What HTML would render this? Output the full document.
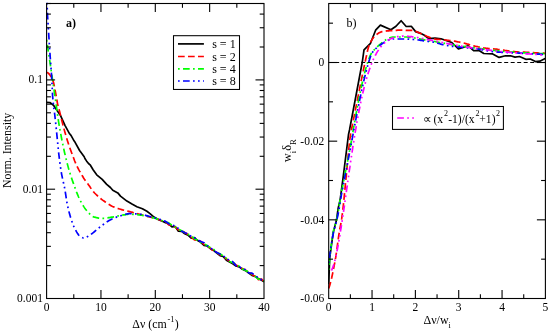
<!DOCTYPE html>
<html><head><meta charset="utf-8"><title>plot</title>
<style>html,body{margin:0;padding:0;background:#fff;}body{width:550px;height:331px;position:relative;overflow:hidden;font-family:"Liberation Serif",serif;}</style>
</head><body>
<svg width="550" height="331" viewBox="0 0 550 331" style="position:absolute;left:0;top:0;will-change:transform;opacity:0.999">
<rect x="0" y="0" width="550" height="331" fill="#fff"/>
<defs><clipPath id="c1"><rect x="46.1" y="0" width="218.4" height="299.0"/></clipPath><clipPath id="c2"><rect x="328.2" y="3.0" width="217.7" height="296.0"/></clipPath></defs>
<g clip-path="url(#c1)" fill="none" stroke-width="1.7" stroke-linejoin="round">
<polyline points="46.6,102.3 49.8,102.5 53.5,105.2 56.4,109.5 59.3,113.9 60.1,114.7 61.8,118.3 65.1,125.6 69.6,133.8 71.0,135.4 74.2,141.1 75.1,142.3 79.6,150.5 84.2,156.8 84.9,158.5 86.5,160.9 88.5,163.5 90.1,164.8 93.1,169.8 96.7,174.8 102.2,179.4 106.7,184.4 110.4,187.5 112.8,190.2 117.8,192.9 120.5,196.1 126.9,201.1 132.4,204.3 136.9,206.7 142.4,208.8 146.9,211.3 150.0,213.6 154.0,217.1 159.2,220.0 162.4,221.2 165.6,222.8 168.8,224.0 172.0,226.9 175.2,226.5 178.4,231.2 181.6,231.3 184.8,233.8 188.0,235.2 191.2,238.2 194.4,237.5 197.6,240.5 200.8,242.3 204.0,245.4 207.2,246.0 210.4,248.7 213.6,250.4 216.8,253.1 220.0,255.6 223.2,256.5 226.4,260.2 229.6,262.1 232.8,263.8 236.0,266.0 239.2,266.9 242.4,269.2 245.6,270.6 248.8,273.0 252.0,275.4 255.2,276.5 258.4,278.6 261.6,280.3 264.0,281.7" stroke="#000"/>
<polyline points="46.6,72.4 47.6,72.7 48.6,73.4 49.6,74.6 50.6,76.0 51.6,77.8 52.6,79.8 53.6,82.8 54.6,87.5 55.6,92.9 56.6,98.5 57.6,104.1 58.6,107.8 59.6,111.5 60.6,115.7 61.6,119.7 62.6,123.6 63.6,127.4 64.6,131.1 65.6,134.6 66.6,138.0 67.6,141.2 68.6,144.2 69.6,147.2 70.6,150.0 71.6,152.7 72.6,155.4 73.6,158.0 74.6,160.7 75.6,163.2 76.6,165.4 77.6,167.4 78.6,169.3 79.6,171.1 80.6,172.8 81.6,174.5 82.6,176.3 83.6,178.0 84.6,179.6 85.6,181.0 86.6,182.3 87.6,183.6 88.6,184.9 89.6,186.3 90.6,187.9 91.6,189.5 92.6,190.7 93.6,191.9 94.6,193.0 95.6,194.0 96.6,195.0 97.6,195.9 98.6,196.8 99.6,197.7 100.6,198.5 101.6,199.3 102.6,200.1 103.6,200.8 104.6,201.5 105.6,202.2 106.6,202.9 107.6,203.6 108.6,204.2 109.6,204.8 110.6,205.4 111.6,206.0 112.6,206.5 113.6,206.9 114.6,207.3 115.6,207.7 116.6,208.1 117.6,208.4 118.6,208.7 119.6,209.0 120.6,209.3 121.6,209.6 122.6,209.9 123.6,210.1 124.6,210.4 125.6,210.6 126.6,210.9 127.6,211.1 128.6,211.3 129.6,211.6 130.6,211.9 131.6,212.1 132.6,212.4 133.6,212.7 134.6,213.0 135.6,213.3 136.6,213.6 137.6,213.8 138.6,214.1 139.6,214.4 140.6,214.7 141.6,214.9 142.6,215.2 143.6,215.4 144.6,215.6 145.6,215.9 146.6,216.1 147.6,216.4 148.6,216.6 149.6,216.9 150.6,217.2 151.6,217.4 152.6,217.7 153.6,218.0 154.6,218.3 155.6,218.6 159.2,219.7 162.4,221.0 165.6,221.7 168.8,224.9 172.0,224.9 175.2,227.2 178.4,229.8 181.6,230.7 184.8,232.6 188.0,234.5 191.2,237.1 194.4,239.8 197.6,240.3 200.8,241.4 204.0,244.4 207.2,245.9 210.4,248.4 213.6,251.2 216.8,252.3 220.0,254.8 223.2,256.5 226.4,258.9 229.6,261.2 232.8,262.5 236.0,264.9 239.2,266.9 242.4,268.6 245.6,270.2 248.8,272.0 252.0,274.6 255.2,276.4 258.4,279.7 261.6,279.0 264.0,282.0" stroke="#f00" stroke-dasharray="6.7 3.3"/>
<polyline points="46.6,40.0 47.6,46.5 48.6,53.1 49.6,59.8 50.6,66.5 51.6,73.2 52.6,80.0 53.6,86.9 54.6,93.8 55.6,100.6 56.6,107.9 57.6,115.3 58.6,121.8 59.6,127.8 60.6,133.3 61.6,138.5 62.6,143.5 63.6,148.2 64.6,152.7 65.6,156.9 66.6,161.0 67.6,164.9 68.6,168.6 69.6,172.0 70.6,175.2 71.6,178.2 72.6,181.1 73.6,183.9 74.6,186.6 75.6,189.4 76.6,192.1 77.6,194.6 78.6,197.0 79.6,199.2 80.6,201.2 81.6,203.0 82.6,204.7 83.6,206.4 84.6,207.9 85.6,209.3 86.6,210.5 87.6,211.7 88.6,212.8 89.6,213.8 90.6,214.8 91.6,215.7 92.6,216.4 93.6,216.9 94.6,217.2 95.6,217.4 96.6,217.7 97.6,217.9 98.6,218.1 99.6,218.2 100.6,218.3 101.6,218.4 102.6,218.4 103.6,218.3 104.6,218.3 105.6,218.1 106.6,218.0 107.6,217.9 108.6,217.7 109.6,217.6 110.6,217.4 111.6,217.2 112.6,217.1 113.6,216.9 114.6,216.7 115.6,216.5 116.6,216.2 117.6,216.0 118.6,215.8 119.6,215.7 120.6,215.5 121.6,215.3 122.6,215.1 123.6,214.9 124.6,214.8 125.6,214.6 126.6,214.5 127.6,214.3 128.6,214.2 129.6,214.2 130.6,214.2 131.6,214.2 132.6,214.3 133.6,214.3 134.6,214.4 135.6,214.5 136.6,214.6 137.6,214.7 138.6,214.8 139.6,215.0 140.6,215.1 141.6,215.2 142.6,215.4 143.6,215.6 144.6,215.8 145.6,216.0 146.6,216.2 147.6,216.4 148.6,216.7 149.6,216.9 150.6,217.1 151.6,217.4 152.6,217.6 153.6,217.9 154.6,218.1 155.6,218.4 159.2,219.7 162.4,220.7 165.6,222.1 168.8,222.9 172.0,225.3 175.2,227.1 178.4,229.1 181.6,230.7 184.8,232.8 188.0,234.4 191.2,235.7 194.4,238.7 197.6,240.3 200.8,242.6 204.0,243.7 207.2,245.6 210.4,247.7 213.6,249.3 216.8,252.8 220.0,253.8 223.2,255.9 226.4,258.5 229.6,261.5 232.8,262.8 236.0,264.1 239.2,266.2 242.4,268.9 245.6,270.4 248.8,271.9 252.0,274.1 255.2,276.5 258.4,279.1 261.6,279.3 264.0,281.2" stroke="#0f0" stroke-dasharray="1.7 3.3 6.7 3.3"/>
<polyline points="46.6,-6.0 47.6,16.5 48.6,32.2 49.6,48.4 50.6,62.5 51.6,75.9 52.6,96.1 53.6,106.4 54.6,113.5 55.6,122.3 56.6,132.1 57.6,142.2 58.6,152.4 59.6,160.8 60.6,167.9 61.6,174.1 62.6,179.0 63.6,183.3 64.6,187.9 65.6,193.8 66.6,200.7 67.6,206.0 68.6,210.3 69.6,214.1 70.6,217.5 71.6,220.6 72.6,223.4 73.6,226.0 74.6,228.2 75.6,230.1 76.6,231.9 77.6,233.6 78.6,235.0 79.6,236.0 80.6,236.7 81.6,237.3 82.6,237.7 83.6,238.0 84.6,237.9 85.6,237.7 86.6,237.2 87.6,236.6 88.6,235.9 89.6,235.2 90.6,234.6 91.6,233.9 92.6,233.2 93.6,232.4 94.6,231.5 95.6,230.7 96.6,229.8 97.6,228.9 98.6,228.1 99.6,227.3 100.6,226.5 101.6,225.8 102.6,225.0 103.6,224.3 104.6,223.5 105.6,222.8 106.6,222.1 107.6,221.4 108.6,220.8 109.6,220.2 110.6,219.7 111.6,219.2 112.6,218.8 113.6,218.3 114.6,217.9 115.6,217.5 116.6,217.1 117.6,216.8 118.6,216.4 119.6,216.1 120.6,215.8 121.6,215.5 122.6,215.2 123.6,214.8 124.6,214.5 125.6,214.3 126.6,214.0 127.6,213.8 128.6,213.7 129.6,213.6 130.6,213.6 131.6,213.6 132.6,213.7 133.6,213.7 134.6,213.8 135.6,213.8 136.6,213.9 137.6,214.0 138.6,214.1 139.6,214.2 140.6,214.3 141.6,214.4 142.6,214.6 143.6,214.8 144.6,215.1 145.6,215.4 146.6,215.6 147.6,215.9 148.6,216.2 149.6,216.5 150.6,216.8 151.6,217.0 152.6,217.3 153.6,217.5 154.6,217.8 155.6,218.1 159.2,219.1 162.4,220.4 165.6,221.4 168.8,223.8 172.0,224.9 175.2,226.1 178.4,228.5 181.6,231.0 184.8,232.7 188.0,233.7 191.2,236.5 194.4,237.8 197.6,239.8 200.8,241.5 204.0,242.7 207.2,245.7 210.4,247.4 213.6,250.7 216.8,252.4 220.0,254.1 223.2,255.7 226.4,258.4 229.6,260.5 232.8,261.7 236.0,265.6 239.2,266.5 242.4,269.2 245.6,269.5 248.8,273.0 252.0,273.2 255.2,275.5 258.4,278.0 261.6,279.7 264.0,279.9" stroke="#00f" stroke-dasharray="6.7 3.3 1.7 3.3 1.7 3.3" stroke-dashoffset="1.2"/>
</g>
<g clip-path="url(#c2)" fill="none" stroke-width="1.7" stroke-linejoin="round">
<polyline points="328.7,284.0 329.7,258.0 333.2,232.6 336.5,220.0 338.1,208.5 340.1,200.0 343.0,178.3 348.5,134.5 349.5,130.0 362.3,62.0 364.0,49.8 370.5,43.3 375.6,30.2 380.4,25.1 390.9,29.7 396.0,26.3 401.1,20.7 406.2,26.5 411.3,26.3 415.6,31.6 420.0,33.1 424.4,35.3 428.7,38.7 435.0,38.2 441.0,38.8 451.8,42.5 458.4,49.0 468.2,45.8 473.6,50.6 479.0,50.6 483.8,53.5 492.7,53.9 499.1,57.4 505.5,55.8 510.5,55.8 515.0,57.1 519.5,56.5 525.8,59.3 530.3,59.0 535.4,61.6 539.8,61.2 545.2,58.6" stroke="#000"/>
<polyline points="328.7,288.4 329.7,285.4 330.7,281.8 331.7,277.7 332.7,273.1 333.7,268.2 334.7,262.9 335.7,257.4 336.7,250.8 337.7,243.2 338.7,235.9 339.7,229.8 340.7,224.6 341.7,218.7 342.7,211.0 343.7,202.0 344.7,191.8 345.7,181.3 346.7,171.1 347.7,160.2 348.7,149.6 349.7,140.3 350.7,133.4 351.7,128.5 352.7,123.5 353.7,118.5 354.7,113.4 355.7,108.4 356.7,103.3 357.7,98.3 358.7,93.3 359.7,88.3 360.7,83.3 361.7,78.4 362.7,73.5 363.7,68.7 364.7,63.9 365.7,59.3 366.7,54.7 367.7,50.1 368.7,46.6 369.7,44.0 370.7,41.9 371.7,40.1 372.7,38.6 373.7,37.2 374.7,36.1 375.7,35.2 376.7,34.5 377.7,33.7 378.7,33.1 379.7,32.5 380.7,32.1 381.7,31.7 382.7,31.5 383.7,31.3 384.7,31.2 385.7,31.1 386.7,30.9 387.7,30.9 388.7,30.8 389.7,30.7 390.7,30.6 391.7,30.6 392.7,30.5 393.7,30.4 394.7,30.4 395.7,30.3 396.7,30.3 397.7,30.2 398.7,30.2 399.7,30.2 400.7,30.2 401.7,30.2 402.7,30.2 403.7,30.2 404.7,30.2 405.7,30.3 406.7,30.3 407.7,30.3 408.7,30.3 409.7,30.4 410.7,30.4 411.7,30.4 412.7,30.5 413.7,30.8 414.7,31.0 415.7,31.4 416.7,31.8 417.7,32.2 418.7,32.6 419.7,33.1 420.7,33.5 421.7,33.9 422.7,34.3 423.7,34.8 424.7,35.2 425.7,35.7 426.7,36.2 427.7,36.6 428.7,37.0 429.7,37.4 430.7,37.7 431.7,38.1 432.7,38.4 433.7,38.7 434.7,39.0 435.7,39.2 436.7,39.3 437.7,39.4 438.7,39.4 439.7,39.5 440.7,39.6 441.7,39.7 442.7,39.8 443.7,39.9 444.7,40.0 445.7,40.1 446.7,40.2 447.7,40.3 448.7,40.4 449.7,40.5 450.7,40.7 451.7,40.8 452.7,40.9 453.7,41.1 454.7,41.2 455.7,41.4 456.7,41.6 457.7,41.8 458.7,42.0 459.7,42.2 460.7,42.4 461.7,42.6 462.7,42.8 463.7,43.0 464.7,43.3 465.7,43.6 466.7,43.9 467.7,44.1 468.7,44.4 469.7,44.7 470.7,45.0 471.7,45.3 472.7,45.6 473.7,45.8 474.7,46.1 475.7,46.3 476.7,46.5 477.7,46.7 478.7,47.0 479.7,47.2 480.7,47.4 481.7,47.6 482.7,47.7 483.7,47.9 484.7,48.0 485.7,48.2 486.7,48.3 487.7,48.4 488.7,48.5 489.7,48.5 490.7,48.6 491.7,48.7 492.7,48.8 493.7,48.9 494.7,49.0 495.7,49.1 496.7,49.2 497.7,49.4 498.7,49.5 499.7,49.7 500.7,49.8 501.7,49.9 502.7,50.1 503.7,50.2 504.7,50.4 505.7,50.5 506.7,50.6 507.7,50.8 508.7,50.9 509.7,51.0 510.7,51.2 511.7,51.3 512.7,51.4 513.7,51.6 514.7,51.7 515.7,51.8 516.7,51.9 517.7,51.9 518.7,52.0 519.7,52.0 520.7,52.1 521.7,52.1 522.7,52.2 523.7,52.2 524.7,52.2 525.7,52.3 526.7,52.3 527.7,52.4 528.7,52.4 529.7,52.5 530.7,52.5 531.7,52.6 532.7,52.6 533.7,52.7 534.7,52.8 535.7,52.8 536.7,52.9 537.7,52.9 538.7,53.0 539.7,53.0 540.7,53.1 541.7,53.1 542.7,53.2 543.7,53.2 544.7,53.3 545.2,53.3" stroke="#f00" stroke-dasharray="6.7 3.3"/>
<polyline points="328.7,270.0 329.7,259.2 330.7,249.5 331.7,241.2 332.7,234.6 333.7,229.8 334.7,226.3 335.7,223.1 336.7,219.1 337.7,214.4 338.7,209.1 339.7,202.6 340.7,196.5 341.7,191.1 342.7,186.0 343.7,180.9 344.7,175.7 345.7,170.5 346.7,165.5 347.7,160.4 348.7,155.3 349.7,150.1 350.7,144.8 351.7,139.2 352.7,133.2 353.7,127.2 354.7,121.5 355.7,116.0 356.7,110.5 357.7,105.2 358.7,100.0 359.7,95.0 360.7,90.1 361.7,85.4 362.7,80.9 363.7,76.7 364.7,72.6 365.7,68.9 366.7,65.4 367.7,62.2 368.7,59.3 369.7,56.7 370.7,54.5 371.7,52.9 372.7,51.5 373.7,50.3 374.7,49.3 375.7,48.3 376.7,47.3 377.7,46.3 378.7,45.4 379.7,44.6 380.7,43.8 381.7,43.0 382.7,42.2 383.7,41.5 384.7,40.7 385.7,39.9 386.7,39.1 387.7,38.5 388.7,38.1 389.7,37.8 390.7,37.6 391.7,37.4 392.7,37.2 393.7,37.1 394.7,37.0 395.7,37.0 396.7,37.0 397.7,37.0 398.7,37.0 399.7,37.0 400.7,37.0 401.7,37.0 402.7,37.0 403.7,37.0 404.7,37.0 405.7,37.0 406.7,37.0 407.7,37.1 408.7,37.2 409.7,37.3 410.7,37.4 411.7,37.5 412.7,37.7 413.7,37.8 414.7,38.0 415.7,38.1 416.7,38.3 417.7,38.5 418.7,38.7 419.7,38.9 420.7,39.1 421.7,39.3 422.7,39.5 423.7,39.8 424.7,39.9 425.7,40.1 426.7,40.3 427.7,40.5 428.7,40.6 429.7,40.8 430.7,40.9 431.7,41.1 432.7,41.2 433.7,41.4 434.7,41.5 435.7,41.7 436.7,41.9 437.7,42.1 438.7,42.3 439.7,42.5 440.7,42.7 441.7,42.8 442.7,43.0 443.7,43.2 444.7,43.4 445.7,43.6 446.7,43.8 447.7,44.0 448.7,44.2 449.7,44.4 450.7,44.5 451.7,44.7 452.7,44.8 453.7,45.0 454.7,45.1 455.7,45.3 456.7,45.4 457.7,45.6 458.7,45.7 459.7,45.8 460.7,46.0 461.7,46.1 462.7,46.2 463.7,46.3 464.7,46.5 465.7,46.6 466.7,46.7 467.7,46.8 468.7,47.0 469.7,47.1 470.7,47.2 471.7,47.3 472.7,47.5 473.7,47.6 474.7,47.8 475.7,47.9 476.7,48.0 477.7,48.2 478.7,48.3 479.7,48.5 480.7,48.6 481.7,48.8 482.7,48.9 483.7,49.1 484.7,49.2 485.7,49.4 486.7,49.5 487.7,49.6 488.7,49.8 489.7,49.9 490.7,50.0 491.7,50.2 492.7,50.3 493.7,50.4 494.7,50.5 495.7,50.6 496.7,50.7 497.7,50.8 498.7,50.9 499.7,51.0 500.7,51.1 501.7,51.2 502.7,51.3 503.7,51.4 504.7,51.5 505.7,51.6 506.7,51.6 507.7,51.7 508.7,51.8 509.7,51.9 510.7,52.0 511.7,52.0 512.7,52.1 513.7,52.2 514.7,52.2 515.7,52.3 516.7,52.4 517.7,52.4 518.7,52.5 519.7,52.5 520.7,52.6 521.7,52.7 522.7,52.7 523.7,52.8 524.7,52.8 525.7,52.9 526.7,52.9 527.7,53.0 528.7,53.0 529.7,53.1 530.7,53.1 531.7,53.2 532.7,53.2 533.7,53.3 534.7,53.3 535.7,53.4 536.7,53.4 537.7,53.5 538.7,53.5 539.7,53.5 540.7,53.6 541.7,53.6 542.7,53.6 543.7,53.7 544.7,53.7 545.2,53.7" stroke="#0f0" stroke-dasharray="1.7 3.3 6.7 3.3"/>
<polyline points="328.7,263.0 329.7,255.4 330.7,248.4 331.7,242.1 332.7,236.5 333.7,231.6 334.7,227.7 335.7,224.2 336.7,220.4 337.7,216.0 338.7,211.2 339.7,205.3 340.7,198.8 341.7,193.2 342.7,188.0 343.7,182.9 344.7,177.8 345.7,172.6 346.7,167.4 347.7,162.3 348.7,157.1 349.7,152.0 350.7,146.8 351.7,141.5 352.7,136.1 353.7,130.5 354.7,125.3 355.7,120.1 356.7,115.0 357.7,109.9 358.7,104.9 359.7,99.9 360.7,95.1 361.7,90.4 362.7,85.8 363.7,81.4 364.7,77.1 365.7,73.1 366.7,69.2 367.7,65.6 368.7,62.2 369.7,58.9 370.7,55.9 371.7,53.5 372.7,52.0 373.7,50.7 374.7,49.6 375.7,48.7 376.7,47.8 377.7,47.0 378.7,46.2 379.7,45.4 380.7,44.7 381.7,44.0 382.7,43.3 383.7,42.7 384.7,42.1 385.7,41.7 386.7,41.1 387.7,40.6 388.7,40.1 389.7,39.7 390.7,39.4 391.7,39.1 392.7,39.0 393.7,39.0 394.7,39.0 395.7,39.0 396.7,39.0 397.7,39.0 398.7,39.0 399.7,39.0 400.7,39.0 401.7,39.0 402.7,39.0 403.7,39.0 404.7,39.0 405.7,39.0 406.7,39.0 407.7,39.1 408.7,39.1 409.7,39.2 410.7,39.2 411.7,39.3 412.7,39.4 413.7,39.5 414.7,39.6 415.7,39.7 416.7,39.8 417.7,39.9 418.7,40.0 419.7,40.2 420.7,40.3 421.7,40.5 422.7,40.7 423.7,40.8 424.7,41.0 425.7,41.1 426.7,41.2 427.7,41.3 428.7,41.5 429.7,41.6 430.7,41.7 431.7,41.9 432.7,42.0 433.7,42.2 434.7,42.3 435.7,42.6 436.7,42.8 437.7,43.2 438.7,43.5 439.7,43.8 440.7,44.1 441.7,44.4 442.7,44.6 443.7,44.8 444.7,45.0 445.7,45.3 446.7,45.5 447.7,45.6 448.7,45.8 449.7,46.0 450.7,46.1 451.7,46.3 452.7,46.4 453.7,46.5 454.7,46.7 455.7,46.8 456.7,46.9 457.7,47.0 458.7,47.1 459.7,47.1 460.7,47.2 461.7,47.3 462.7,47.4 463.7,47.5 464.7,47.5 465.7,47.6 466.7,47.7 467.7,47.8 468.7,47.9 469.7,48.0 470.7,48.1 471.7,48.2 472.7,48.3 473.7,48.4 474.7,48.5 475.7,48.7 476.7,48.8 477.7,49.0 478.7,49.2 479.7,49.4 480.7,49.5 481.7,49.7 482.7,49.9 483.7,50.1 484.7,50.3 485.7,50.5 486.7,50.7 487.7,50.9 488.7,51.0 489.7,51.2 490.7,51.3 491.7,51.5 492.7,51.6 493.7,51.7 494.7,51.8 495.7,51.9 496.7,52.0 497.7,52.1 498.7,52.1 499.7,52.2 500.7,52.2 501.7,52.3 502.7,52.3 503.7,52.4 504.7,52.4 505.7,52.5 506.7,52.5 507.7,52.6 508.7,52.6 509.7,52.7 510.7,52.7 511.7,52.7 512.7,52.8 513.7,52.8 514.7,52.9 515.7,52.9 516.7,53.0 517.7,53.0 518.7,53.1 519.7,53.1 520.7,53.2 521.7,53.2 522.7,53.3 523.7,53.3 524.7,53.4 525.7,53.4 526.7,53.5 527.7,53.5 528.7,53.6 529.7,53.7 530.7,53.7 531.7,53.8 532.7,53.8 533.7,53.9 534.7,53.9 535.7,54.0 536.7,54.0 537.7,54.1 538.7,54.1 539.7,54.2 540.7,54.3 541.7,54.3 542.7,54.4 543.7,54.4 544.7,54.5 545.2,54.5" stroke="#00f" stroke-dasharray="6.7 3.3 1.7 3.3 1.7 3.3" stroke-dashoffset="15"/>
<polyline points="331.4,270.5 332.0,269.4 332.5,268.1 333.0,266.7 333.6,265.1 334.1,263.3 334.7,261.3 335.2,259.2 335.8,256.9 336.3,254.5 336.8,251.9 337.4,249.2 337.9,246.3 338.5,243.4 339.0,240.3 339.6,237.1 340.1,233.8 340.6,230.4 341.2,227.0 341.7,223.5 342.3,219.9 342.8,216.2 343.4,212.5 343.9,208.8 344.5,205.0 345.0,201.2 345.5,197.4 346.1,193.6 346.6,189.7 347.2,185.9 347.7,182.0 348.3,178.2 348.8,174.4 349.3,170.6 349.9,166.9 350.4,163.1 351.0,159.4 351.5,155.8 352.1,152.2 352.6,148.6 353.1,145.1 353.7,141.7 354.2,138.3 354.8,134.9 355.3,131.6 355.9,128.4 356.4,125.3 356.9,122.2 357.5,119.1 358.0,116.2 358.6,113.3 359.1,110.4 359.7,107.7 360.2,105.0 360.7,102.4 361.3,99.8 361.8,97.3 362.4,94.9 362.9,92.6 363.5,90.3 364.0,88.1 364.5,85.9 365.1,83.9 365.6,81.8 366.2,79.9 366.7,78.0 367.3,76.2 367.8,74.4 368.3,72.7 368.9,71.0 369.4,69.4 370.0,67.9 370.5,66.4 371.1,65.0 371.6,63.6 372.1,62.2 372.7,61.0 373.2,59.7 373.8,58.5 374.3,57.4 374.9,56.3 375.4,55.2 376.0,54.2 376.5,53.2 377.0,52.3 377.6,51.4 378.1,50.6 378.7,49.7 379.2,48.9 379.8,48.2 380.3,47.5 380.8,46.8 381.4,46.1 381.9,45.5 382.5,44.9 383.0,44.3 383.6,43.8 384.1,43.3 384.6,42.8 385.2,42.3 385.7,41.9 386.3,41.5 386.8,41.1 387.4,40.7 387.9,40.3 388.4,40.0 389.0,39.7 389.5,39.4 390.1,39.1 390.6,38.8 391.2,38.6 391.7,38.3 392.2,38.1 392.8,37.9 393.3,37.7 393.9,37.5 394.4,37.4 395.0,37.2 395.5,37.1 396.0,37.0 396.6,36.9 397.1,36.7 397.7,36.7 398.2,36.6 398.8,36.5 399.3,36.4 399.8,36.4 400.4,36.3 400.9,36.3 401.5,36.3 402.0,36.2 402.6,36.2 403.1,36.2 403.6,36.2 404.2,36.2 404.7,36.2 405.3,36.2 405.8,36.2 406.4,36.3 406.9,36.3 407.5,36.3 408.0,36.4 408.5,36.4 409.1,36.5 409.6,36.5 410.2,36.6 410.7,36.6 411.3,36.7 411.8,36.7 412.3,36.8 412.9,36.9 413.4,37.0 414.0,37.0 414.5,37.1 415.1,37.2 415.6,37.3 416.1,37.4 416.7,37.5 417.2,37.5 417.8,37.6 418.3,37.7 418.9,37.8 419.4,37.9 419.9,38.0 420.5,38.1 421.0,38.2 421.6,38.3 422.1,38.4 422.7,38.5 423.2,38.6 423.7,38.7 424.3,38.9 424.8,39.0 425.4,39.1 425.9,39.2 426.5,39.3 427.0,39.4 427.5,39.5 428.1,39.6 428.6,39.7 429.2,39.8 429.7,40.0 430.3,40.1 430.8,40.2 431.3,40.3 431.9,40.4 432.4,40.5 433.0,40.6 433.5,40.7 434.1,40.9 434.6,41.0 435.1,41.1 435.7,41.2 436.2,41.3 436.8,41.4 437.3,41.5 437.9,41.7 438.4,41.8 439.0,41.9 439.5,42.0 440.0,42.1 440.6,42.2 441.1,42.3 441.7,42.4 442.2,42.5 442.8,42.6 443.3,42.8 443.8,42.9 444.4,43.0 444.9,43.1 445.5,43.2 446.0,43.3 446.6,43.4 447.1,43.5 447.6,43.6 448.2,43.7 448.7,43.8 449.3,43.9 449.8,44.0 450.4,44.1 450.9,44.2 451.4,44.3 452.0,44.4 452.5,44.5 453.1,44.6 453.6,44.7 454.2,44.8 454.7,44.9 455.2,45.0 455.8,45.1 456.3,45.2 456.9,45.3 457.4,45.4 458.0,45.5 458.5,45.6 459.0,45.7 459.6,45.8 460.1,45.9 460.7,46.0 461.2,46.1 461.8,46.2 462.3,46.3 462.8,46.4 463.4,46.5 463.9,46.6 464.5,46.6 465.0,46.7 465.6,46.8 466.1,46.9 466.6,47.0 467.2,47.1 467.7,47.2 468.3,47.2 468.8,47.3 469.4,47.4 469.9,47.5 470.5,47.6 471.0,47.7 471.5,47.8 472.1,47.8 472.6,47.9 473.2,48.0 473.7,48.1 474.3,48.2 474.8,48.2 475.3,48.3 475.9,48.4 476.4,48.5 477.0,48.5 477.5,48.6 478.1,48.7 478.6,48.8 479.1,48.8 479.7,48.9 480.2,49.0 480.8,49.1 481.3,49.1 481.9,49.2 482.4,49.3 482.9,49.4 483.5,49.4 484.0,49.5 484.6,49.6 485.1,49.6 485.7,49.7 486.2,49.8 486.7,49.8 487.3,49.9 487.8,50.0 488.4,50.0 488.9,50.1 489.5,50.2 490.0,50.2 490.5,50.3 491.1,50.4 491.6,50.4 492.2,50.5 492.7,50.6 493.3,50.6 493.8,50.7 494.3,50.7 494.9,50.8 495.4,50.9 496.0,50.9 496.5,51.0 497.1,51.0 497.6,51.1 498.1,51.2 498.7,51.2 499.2,51.3 499.8,51.3 500.3,51.4 500.9,51.5 501.4,51.5 502.0,51.6 502.5,51.6 503.0,51.7 503.6,51.7 504.1,51.8 504.7,51.8 505.2,51.9 505.8,51.9 506.3,52.0 506.8,52.1 507.4,52.1 507.9,52.2 508.5,52.2 509.0,52.3 509.6,52.3 510.1,52.4 510.6,52.4 511.2,52.5 511.7,52.5 512.3,52.6 512.8,52.6 513.4,52.7 513.9,52.7 514.4,52.8 515.0,52.8 515.5,52.9 516.1,52.9 516.6,52.9 517.2,53.0 517.7,53.0 518.2,53.1 518.8,53.1 519.3,53.2 519.9,53.2 520.4,53.3 521.0,53.3 521.5,53.4 522.0,53.4 522.6,53.4 523.1,53.5 523.7,53.5 524.2,53.6 524.8,53.6 525.3,53.7 525.8,53.7 526.4,53.7 526.9,53.8 527.5,53.8 528.0,53.9 528.6,53.9 529.1,53.9 529.6,54.0 530.2,54.0 530.7,54.1 531.3,54.1 531.8,54.1 532.4,54.2 532.9,54.2 533.5,54.2 534.0,54.3 534.5,54.3 535.1,54.4 535.6,54.4 536.2,54.4 536.7,54.5 537.3,54.5 537.8,54.5 538.3,54.6 538.9,54.6 539.4,54.7 540.0,54.7 540.5,54.7 541.1,54.8 541.6,54.8 542.1,54.8 542.7,54.9 543.2,54.9 543.8,54.9 544.3,55.0 544.9,55.0 545.4,55.0" stroke="#f0f" stroke-dasharray="6.7 3.3 1.7 3.3 1.7 3.3"/>
</g>
<line x1="328.70" y1="62.50" x2="545.40" y2="62.50" stroke="#000" stroke-width="1" stroke-dasharray="4 2.5"/>
<rect x="46.60" y="3.50" width="217.40" height="295.00" fill="none" stroke="#000" stroke-width="1.1"/>
<rect x="328.70" y="3.50" width="216.70" height="295.00" fill="none" stroke="#000" stroke-width="1.1"/>
<line x1="73.78" y1="298.50" x2="73.78" y2="294.20" stroke="#000" stroke-width="1.1" />
<line x1="73.78" y1="3.50" x2="73.78" y2="7.80" stroke="#000" stroke-width="1.1" />
<line x1="100.95" y1="298.50" x2="100.95" y2="290.00" stroke="#000" stroke-width="1.1" />
<line x1="100.95" y1="3.50" x2="100.95" y2="12.00" stroke="#000" stroke-width="1.1" />
<line x1="128.12" y1="298.50" x2="128.12" y2="294.20" stroke="#000" stroke-width="1.1" />
<line x1="128.12" y1="3.50" x2="128.12" y2="7.80" stroke="#000" stroke-width="1.1" />
<line x1="155.30" y1="298.50" x2="155.30" y2="290.00" stroke="#000" stroke-width="1.1" />
<line x1="155.30" y1="3.50" x2="155.30" y2="12.00" stroke="#000" stroke-width="1.1" />
<line x1="182.47" y1="298.50" x2="182.47" y2="294.20" stroke="#000" stroke-width="1.1" />
<line x1="182.47" y1="3.50" x2="182.47" y2="7.80" stroke="#000" stroke-width="1.1" />
<line x1="209.65" y1="298.50" x2="209.65" y2="290.00" stroke="#000" stroke-width="1.1" />
<line x1="209.65" y1="3.50" x2="209.65" y2="12.00" stroke="#000" stroke-width="1.1" />
<line x1="236.82" y1="298.50" x2="236.82" y2="294.20" stroke="#000" stroke-width="1.1" />
<line x1="236.82" y1="3.50" x2="236.82" y2="7.80" stroke="#000" stroke-width="1.1" />
<line x1="46.60" y1="265.60" x2="50.90" y2="265.60" stroke="#000" stroke-width="1.1" />
<line x1="264.00" y1="265.60" x2="259.70" y2="265.60" stroke="#000" stroke-width="1.1" />
<line x1="46.60" y1="246.35" x2="50.90" y2="246.35" stroke="#000" stroke-width="1.1" />
<line x1="264.00" y1="246.35" x2="259.70" y2="246.35" stroke="#000" stroke-width="1.1" />
<line x1="46.60" y1="232.69" x2="50.90" y2="232.69" stroke="#000" stroke-width="1.1" />
<line x1="264.00" y1="232.69" x2="259.70" y2="232.69" stroke="#000" stroke-width="1.1" />
<line x1="46.60" y1="222.10" x2="50.90" y2="222.10" stroke="#000" stroke-width="1.1" />
<line x1="264.00" y1="222.10" x2="259.70" y2="222.10" stroke="#000" stroke-width="1.1" />
<line x1="46.60" y1="213.45" x2="50.90" y2="213.45" stroke="#000" stroke-width="1.1" />
<line x1="264.00" y1="213.45" x2="259.70" y2="213.45" stroke="#000" stroke-width="1.1" />
<line x1="46.60" y1="206.13" x2="50.90" y2="206.13" stroke="#000" stroke-width="1.1" />
<line x1="264.00" y1="206.13" x2="259.70" y2="206.13" stroke="#000" stroke-width="1.1" />
<line x1="46.60" y1="199.79" x2="50.90" y2="199.79" stroke="#000" stroke-width="1.1" />
<line x1="264.00" y1="199.79" x2="259.70" y2="199.79" stroke="#000" stroke-width="1.1" />
<line x1="46.60" y1="194.20" x2="50.90" y2="194.20" stroke="#000" stroke-width="1.1" />
<line x1="264.00" y1="194.20" x2="259.70" y2="194.20" stroke="#000" stroke-width="1.1" />
<line x1="46.60" y1="189.20" x2="55.10" y2="189.20" stroke="#000" stroke-width="1.1" />
<line x1="264.00" y1="189.20" x2="255.50" y2="189.20" stroke="#000" stroke-width="1.1" />
<line x1="46.60" y1="156.30" x2="50.90" y2="156.30" stroke="#000" stroke-width="1.1" />
<line x1="264.00" y1="156.30" x2="259.70" y2="156.30" stroke="#000" stroke-width="1.1" />
<line x1="46.60" y1="137.05" x2="50.90" y2="137.05" stroke="#000" stroke-width="1.1" />
<line x1="264.00" y1="137.05" x2="259.70" y2="137.05" stroke="#000" stroke-width="1.1" />
<line x1="46.60" y1="123.39" x2="50.90" y2="123.39" stroke="#000" stroke-width="1.1" />
<line x1="264.00" y1="123.39" x2="259.70" y2="123.39" stroke="#000" stroke-width="1.1" />
<line x1="46.60" y1="112.80" x2="50.90" y2="112.80" stroke="#000" stroke-width="1.1" />
<line x1="264.00" y1="112.80" x2="259.70" y2="112.80" stroke="#000" stroke-width="1.1" />
<line x1="46.60" y1="104.15" x2="50.90" y2="104.15" stroke="#000" stroke-width="1.1" />
<line x1="264.00" y1="104.15" x2="259.70" y2="104.15" stroke="#000" stroke-width="1.1" />
<line x1="46.60" y1="96.83" x2="50.90" y2="96.83" stroke="#000" stroke-width="1.1" />
<line x1="264.00" y1="96.83" x2="259.70" y2="96.83" stroke="#000" stroke-width="1.1" />
<line x1="46.60" y1="90.49" x2="50.90" y2="90.49" stroke="#000" stroke-width="1.1" />
<line x1="264.00" y1="90.49" x2="259.70" y2="90.49" stroke="#000" stroke-width="1.1" />
<line x1="46.60" y1="84.90" x2="50.90" y2="84.90" stroke="#000" stroke-width="1.1" />
<line x1="264.00" y1="84.90" x2="259.70" y2="84.90" stroke="#000" stroke-width="1.1" />
<line x1="46.60" y1="79.90" x2="55.10" y2="79.90" stroke="#000" stroke-width="1.1" />
<line x1="264.00" y1="79.90" x2="255.50" y2="79.90" stroke="#000" stroke-width="1.1" />
<line x1="46.60" y1="47.00" x2="50.90" y2="47.00" stroke="#000" stroke-width="1.1" />
<line x1="264.00" y1="47.00" x2="259.70" y2="47.00" stroke="#000" stroke-width="1.1" />
<line x1="46.60" y1="27.75" x2="50.90" y2="27.75" stroke="#000" stroke-width="1.1" />
<line x1="264.00" y1="27.75" x2="259.70" y2="27.75" stroke="#000" stroke-width="1.1" />
<line x1="46.60" y1="14.09" x2="50.90" y2="14.09" stroke="#000" stroke-width="1.1" />
<line x1="264.00" y1="14.09" x2="259.70" y2="14.09" stroke="#000" stroke-width="1.1" />
<line x1="46.60" y1="3.50" x2="50.90" y2="3.50" stroke="#000" stroke-width="1.1" />
<line x1="264.00" y1="3.50" x2="259.70" y2="3.50" stroke="#000" stroke-width="1.1" />
<line x1="350.37" y1="298.50" x2="350.37" y2="294.20" stroke="#000" stroke-width="1.1" />
<line x1="350.37" y1="3.50" x2="350.37" y2="7.80" stroke="#000" stroke-width="1.1" />
<line x1="372.04" y1="298.50" x2="372.04" y2="290.00" stroke="#000" stroke-width="1.1" />
<line x1="372.04" y1="3.50" x2="372.04" y2="12.00" stroke="#000" stroke-width="1.1" />
<line x1="393.71" y1="298.50" x2="393.71" y2="294.20" stroke="#000" stroke-width="1.1" />
<line x1="393.71" y1="3.50" x2="393.71" y2="7.80" stroke="#000" stroke-width="1.1" />
<line x1="415.38" y1="298.50" x2="415.38" y2="290.00" stroke="#000" stroke-width="1.1" />
<line x1="415.38" y1="3.50" x2="415.38" y2="12.00" stroke="#000" stroke-width="1.1" />
<line x1="437.05" y1="298.50" x2="437.05" y2="294.20" stroke="#000" stroke-width="1.1" />
<line x1="437.05" y1="3.50" x2="437.05" y2="7.80" stroke="#000" stroke-width="1.1" />
<line x1="458.72" y1="298.50" x2="458.72" y2="290.00" stroke="#000" stroke-width="1.1" />
<line x1="458.72" y1="3.50" x2="458.72" y2="12.00" stroke="#000" stroke-width="1.1" />
<line x1="480.39" y1="298.50" x2="480.39" y2="294.20" stroke="#000" stroke-width="1.1" />
<line x1="480.39" y1="3.50" x2="480.39" y2="7.80" stroke="#000" stroke-width="1.1" />
<line x1="502.06" y1="298.50" x2="502.06" y2="290.00" stroke="#000" stroke-width="1.1" />
<line x1="502.06" y1="3.50" x2="502.06" y2="12.00" stroke="#000" stroke-width="1.1" />
<line x1="523.73" y1="298.50" x2="523.73" y2="294.20" stroke="#000" stroke-width="1.1" />
<line x1="523.73" y1="3.50" x2="523.73" y2="7.80" stroke="#000" stroke-width="1.1" />
<line x1="328.70" y1="259.17" x2="333.00" y2="259.17" stroke="#000" stroke-width="1.1" />
<line x1="545.40" y1="259.17" x2="541.10" y2="259.17" stroke="#000" stroke-width="1.1" />
<line x1="328.70" y1="219.83" x2="337.20" y2="219.83" stroke="#000" stroke-width="1.1" />
<line x1="545.40" y1="219.83" x2="536.90" y2="219.83" stroke="#000" stroke-width="1.1" />
<line x1="328.70" y1="180.50" x2="333.00" y2="180.50" stroke="#000" stroke-width="1.1" />
<line x1="545.40" y1="180.50" x2="541.10" y2="180.50" stroke="#000" stroke-width="1.1" />
<line x1="328.70" y1="141.17" x2="337.20" y2="141.17" stroke="#000" stroke-width="1.1" />
<line x1="545.40" y1="141.17" x2="536.90" y2="141.17" stroke="#000" stroke-width="1.1" />
<line x1="328.70" y1="101.83" x2="333.00" y2="101.83" stroke="#000" stroke-width="1.1" />
<line x1="545.40" y1="101.83" x2="541.10" y2="101.83" stroke="#000" stroke-width="1.1" />
<line x1="328.70" y1="62.50" x2="337.20" y2="62.50" stroke="#000" stroke-width="1.1" />
<line x1="545.40" y1="62.50" x2="536.90" y2="62.50" stroke="#000" stroke-width="1.1" />
<line x1="328.70" y1="23.17" x2="333.00" y2="23.17" stroke="#000" stroke-width="1.1" />
<line x1="545.40" y1="23.17" x2="541.10" y2="23.17" stroke="#000" stroke-width="1.1" />
<rect x="173.5" y="35.7" width="66.0" height="53.75" fill="#fff" stroke="#000" stroke-width="1.05"/>
<g fill="none" stroke-width="1.7">
<line x1="178" y1="43.9" x2="203.9" y2="43.9" stroke="#000"/>
<line x1="178" y1="56.5" x2="203.9" y2="56.5" stroke="#f00" stroke-dasharray="6.7 3.3"/>
<line x1="178" y1="68.8" x2="203.9" y2="68.8" stroke="#0f0" stroke-dasharray="1.7 3.3 6.7 3.3"/>
<line x1="178" y1="81.0" x2="203.9" y2="81.0" stroke="#00f" stroke-dasharray="6.7 3.3 1.7 3.3 1.7 3.3" stroke-dashoffset="15"/>
</g>
<rect x="392.5" y="106.5" width="110.9" height="22.9" fill="#fff" stroke="#000" stroke-width="1.05"/>
<line x1="397.2" y1="118" x2="414.4" y2="118" stroke="#f0f" stroke-width="1.7" stroke-dasharray="6.7 3.3 1.7 3.3 1.7 3.3"/>
<g font-family="'Liberation Serif', serif" font-size="11.5" fill="#000">
<text x="42.90" y="83.40" text-anchor="end" >0.1</text>
<text x="42.90" y="192.70" text-anchor="end" >0.01</text>
<text x="42.90" y="302.00" text-anchor="end" >0.001</text>
<text x="46.60" y="311.20" text-anchor="middle" >0</text>
<text x="100.95" y="311.20" text-anchor="middle" >10</text>
<text x="155.30" y="311.20" text-anchor="middle" >20</text>
<text x="209.65" y="311.20" text-anchor="middle" >30</text>
<text x="264.00" y="311.20" text-anchor="middle" >40</text>
<text x="328.70" y="311.00" text-anchor="middle" >0</text>
<text x="372.04" y="311.00" text-anchor="middle" >1</text>
<text x="415.38" y="311.00" text-anchor="middle" >2</text>
<text x="458.72" y="311.00" text-anchor="middle" >3</text>
<text x="502.06" y="311.00" text-anchor="middle" >4</text>
<text x="545.40" y="311.00" text-anchor="middle" >5</text>
<text x="324.30" y="66.20" text-anchor="end" >0</text>
<text x="324.30" y="144.87" text-anchor="end" >-0.02</text>
<text x="324.30" y="223.53" text-anchor="end" >-0.04</text>
<text x="324.30" y="302.20" text-anchor="end" >-0.06</text>
<text x="212.20" y="48.20" text-anchor="start" font-size="12">s = 1</text>
<text x="212.20" y="60.55" text-anchor="start" font-size="12">s = 2</text>
<text x="212.20" y="72.90" text-anchor="start" font-size="12">s = 4</text>
<text x="212.20" y="85.25" text-anchor="start" font-size="12">s = 8</text>
<text x="66.10" y="27.00" text-anchor="start" font-weight="bold" font-size="12">a)</text>
<text x="346.40" y="27.00" text-anchor="start" font-size="12">b)</text>
<text x="155.50" y="328.00" text-anchor="middle" font-size="11.9">Δν (cm<tspan font-size="8.3" dy="-5.8" dx="0.6">-1</tspan><tspan dy="5.8" dx="0.4">)</tspan></text>
<text x="437.20" y="323.90" text-anchor="middle" font-size="12">Δν/w<tspan font-size="8.3" dy="4">i</tspan></text>
<text x="0.00" y="0.00" text-anchor="middle" transform="translate(11.1,150.4) rotate(-90)" font-size="11.9">Norm. Intensity</text>
<text x="0.00" y="0.00" text-anchor="middle" transform="translate(291.1,150.7) rotate(-90)" font-size="12.5">w<tspan font-size="8.8" dy="4.6">i</tspan><tspan dy="-4.6">δ</tspan><tspan font-size="8.8" dy="4.6">R</tspan></text>
<text y="123.3" font-size="11.6"><tspan x="422.7">∝</tspan><tspan x="433.4">(x</tspan><tspan x="444" dy="-6.9" font-size="8">2</tspan><tspan x="448.2" dy="6.9">-1)/(x</tspan><tspan x="475.5" dy="-6.9" font-size="8">2</tspan><tspan x="479.3" dy="6.9">+1)</tspan><tspan x="496.0" dy="-6.9" font-size="8">2</tspan></text>
</g>
</svg>
</body></html>
